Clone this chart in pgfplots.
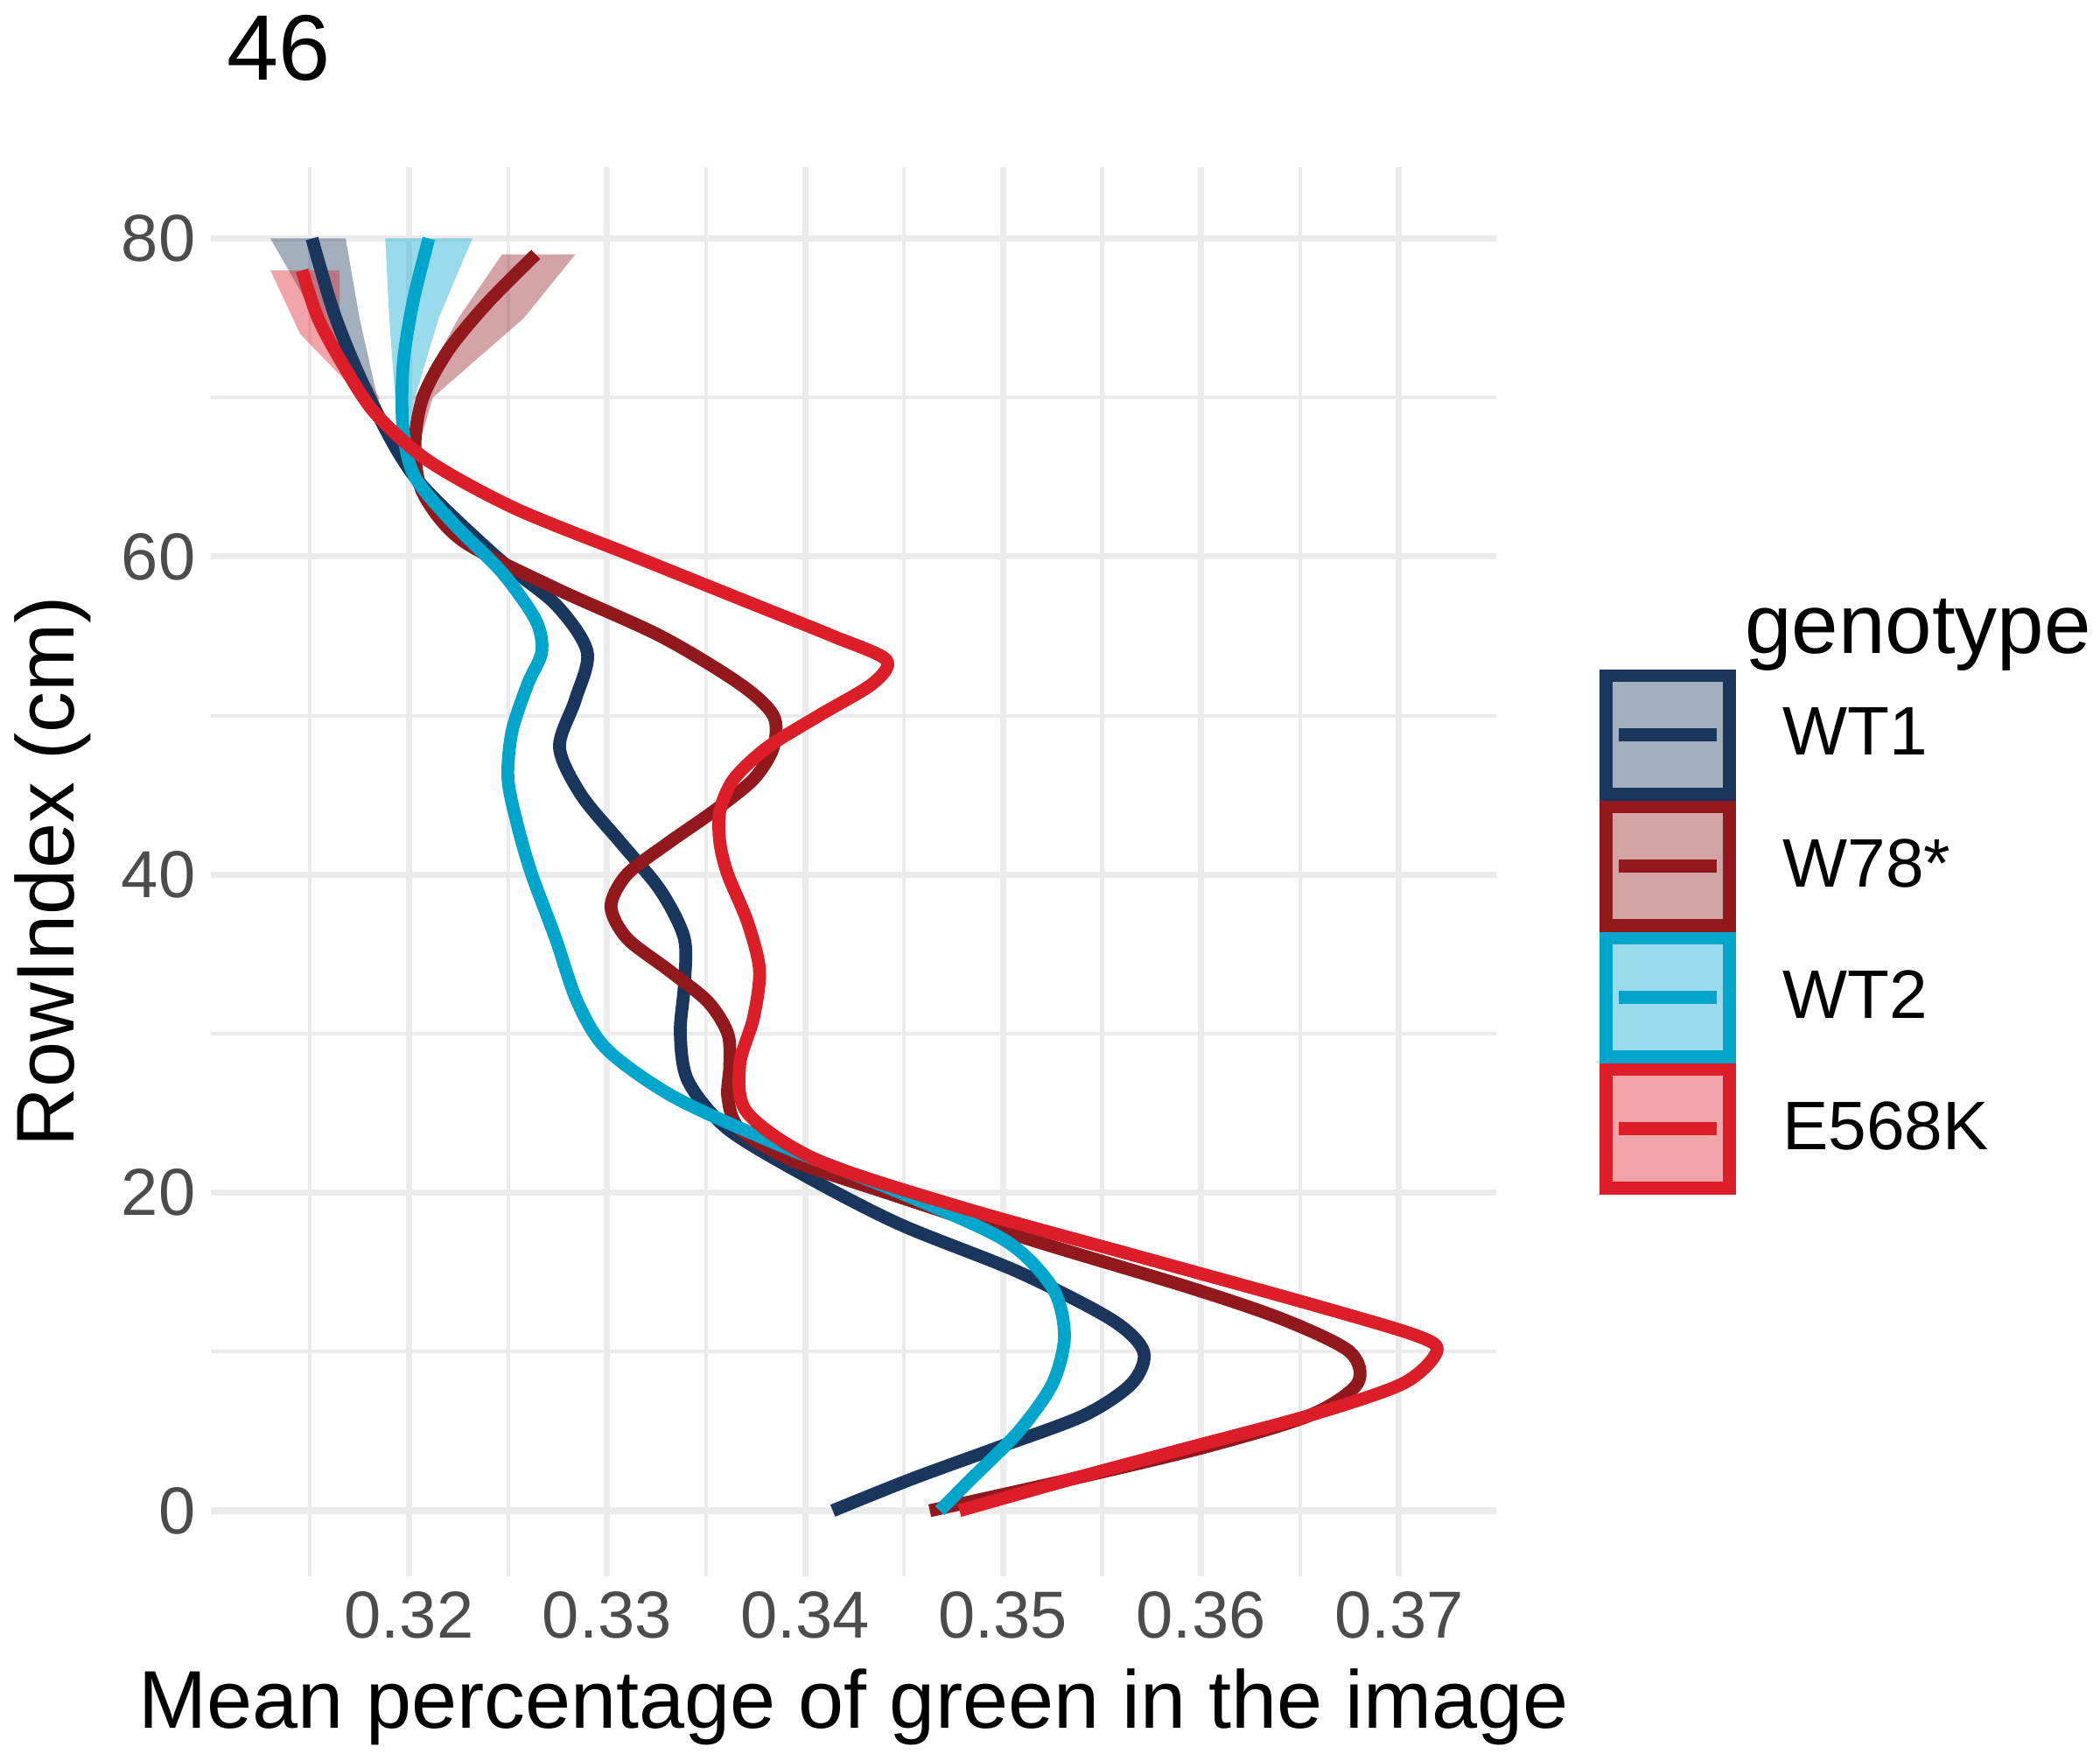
\documentclass[border=0pt]{standalone}
\usepackage{pgfplots}
\pgfplotsset{compat=1.18}
\usepackage{fontspec}
\setmainfont{Liberation Sans}
\definecolor{cA}{RGB}{27,54,93}
\definecolor{cB}{RGB}{145,25,30}
\definecolor{cC}{RGB}{0,165,204}
\definecolor{cD}{RGB}{220,30,40}
\definecolor{gr}{RGB}{235,235,235}
\begin{document}
\begin{tikzpicture}
\begin{axis}[scale only axis, width=10.2cm, height=11.18cm,
 xmin=0.3100, xmax=0.3749, ymin=-4.1, ymax=84.5,
 axis line style={draw=none}, tick style={draw=none},
 xtick={0.32,0.33,0.34,0.35,0.36,0.37}, minor xtick={0.315,0.325,0.335,0.345,0.355,0.365},
 ytick={0,20,40,60,80}, minor ytick={10,30,50,70},
 xticklabel style={/pgf/number format/fixed,/pgf/number format/precision=2},
 /pgf/number format/assume math mode=true,
 grid=both, major grid style={gr, line width=1.4pt}, minor grid style={gr, line width=0.8pt},
 ticklabel style={font=\fontsize{15}{18}\selectfont, text=black!70},
 xlabel={Mean percentage of green in the image}, ylabel={RowIndex (cm)},
 label style={font=\fontsize{18.5}{22}\selectfont},
 title={46}, title style={font=\fontsize{21}{25}\selectfont, at={(0,1)}, anchor=south west, xshift=0cm, yshift=0.35cm},
 legend style={at={(1.08,0.70)}, anchor=north west, draw=none, font=\fontsize{15.5}{19}\selectfont, row sep=0pt, inner sep=0pt, cells={anchor=west}},
 legend cell align=left,
 every axis plot/.append style={line width=2.9pt},
]
\addplot[fill=cA, fill opacity=0.4, draw=none, forget plot] coordinates {(0.3130,80)(0.3153,75)(0.3176,70)(0.3185,68)(0.3184,70)(0.3175,75)(0.3168,80)};
\addplot[fill=cB, fill opacity=0.4, draw=none, forget plot] coordinates {(0.3247,79)(0.3225,75)(0.3203,70)(0.3205,67)(0.3212,70)(0.3258,75)(0.3284,79)};
\addplot[fill=cC, fill opacity=0.4, draw=none, forget plot] coordinates {(0.3188,80)(0.3190,75)(0.3193,70)(0.3198,67)(0.3203,70)(0.3215,75)(0.3232,80)};
\addplot[fill=cD, fill opacity=0.4, draw=none, forget plot] coordinates {(0.3130,78)(0.3145,74)(0.3176,70)(0.3183,69)(0.3185,70)(0.3165,74)(0.3165,78)};
\addlegendimage{empty legend}\addlegendentry{\fontsize{19}{23}\selectfont genotype\rule[-0.5cm]{0pt}{0.5cm}}
\addplot[cA, smooth, legend image code/.code={\path[fill=cA, fill opacity=0.4] (0,-0.47cm) rectangle (0.98cm,0.47cm); \path[draw=cA, line width=2.9pt] (0.1cm,0) -- (0.88cm,0);}] coordinates {
(0.3151,80)(0.3163,75)(0.3180,70)(0.3203,65)(0.3244,60)(0.3274,57)(0.3290,54)(0.3284,51)(0.3276,48)(0.3287,45)(0.3307,42)(0.3327,39)(0.3339,36)(0.3339,33)(0.3337,30)(0.3341,27)(0.3361,24)(0.3401,21)(0.3448,18)(0.3508,15)(0.3555,12)(0.3571,10)(0.3565,8)(0.3541,6)(0.3498,4)(0.3454,2)(0.3414,0)};
\addlegendentry{\hspace{0.3cm}WT1}
\addplot[cB, smooth, legend image code/.code={\path[fill=cB, fill opacity=0.4] (0,-0.47cm) rectangle (0.98cm,0.47cm); \path[draw=cB, line width=2.9pt] (0.1cm,0) -- (0.88cm,0);}] coordinates {
(0.3264,79)(0.3240,76)(0.3220,73)(0.3207,70)(0.3203,67)(0.3207,64)(0.3227,61)(0.3274,58)(0.3327,55)(0.3367,52)(0.3384,50)(0.3384,48)(0.3374,46)(0.3354,44)(0.3331,42)(0.3310,40)(0.3302,38)(0.3310,36)(0.3331,34)(0.3351,32)(0.3361,30)(0.3362,28)(0.3361,26)(0.3367,24)(0.3394,22)(0.3441,20)(0.3515,17)(0.3595,14)(0.3642,12)(0.3675,10)(0.3679,8)(0.3655,6)(0.3602,4)(0.3535,2)(0.3463,0)};
\addlegendentry{\hspace{0.3cm}W78*}
\addplot[cC, smooth, legend image code/.code={\path[fill=cC, fill opacity=0.4] (0,-0.47cm) rectangle (0.98cm,0.47cm); \path[draw=cC, line width=2.9pt] (0.1cm,0) -- (0.88cm,0);}] coordinates {
(0.3210,80)(0.3202,76)(0.3197,72)(0.3197,68)(0.3203,65)(0.3223,62)(0.3247,59)(0.3264,56)(0.3267,54)(0.3260,52)(0.3252,49)(0.3250,46)(0.3255,43)(0.3262,40)(0.3274,36)(0.3285,32)(0.3300,29)(0.3334,26)(0.3387,23)(0.3448,20)(0.3501,17)(0.3525,14)(0.3531,11)(0.3525,8)(0.3508,5)(0.3484,2)(0.3468,0)};
\addlegendentry{\hspace{0.3cm}WT2}
\addplot[cD, smooth, legend image code/.code={\path[fill=cD, fill opacity=0.4] (0,-0.47cm) rectangle (0.98cm,0.47cm); \path[draw=cD, line width=2.9pt] (0.1cm,0) -- (0.88cm,0);}] coordinates {
(0.3146,78)(0.3154,75)(0.3167,72)(0.3183,69)(0.3210,66)(0.3254,63)(0.3314,60)(0.3374,57)(0.3414,55)(0.3441,53.5)(0.3434,52)(0.3407,50)(0.3381,48)(0.3364,46)(0.3357,44)(0.3357,42)(0.3361,40)(0.3371,37)(0.3377,34)(0.3374,31)(0.3367,28)(0.3371,25)(0.3407,22)(0.3481,19)(0.3568,16)(0.3655,13)(0.3709,11)(0.3719,10)(0.3702,8)(0.3655,6)(0.3595,4)(0.3535,2)(0.3478,0)};
\addlegendentry{\hspace{0.3cm}E568K}
\end{axis}
\end{tikzpicture}
\end{document}
